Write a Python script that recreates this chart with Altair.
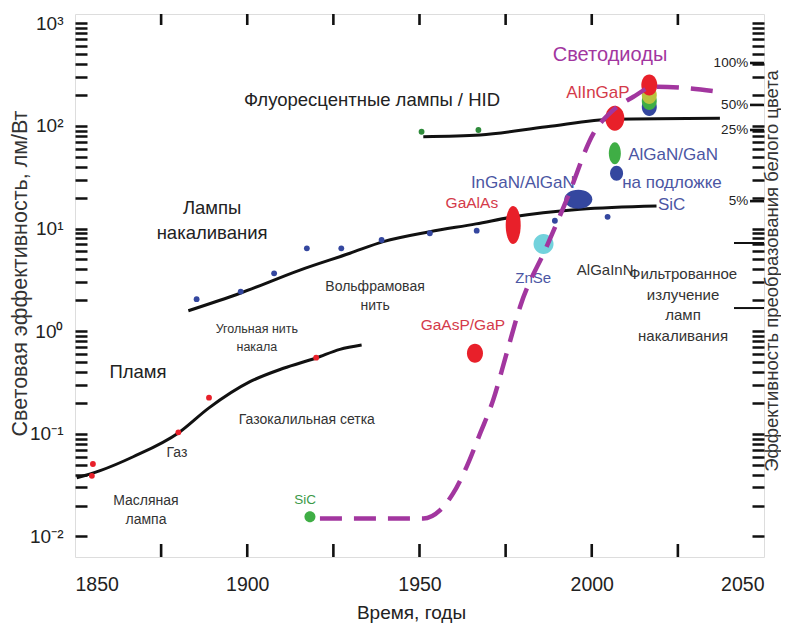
import altair as alt
import pandas as pd

# ---------------- data ----------------
flame_curve_year = [1850.5, 1857.3, 1866.9, 1880.0, 1888.9, 1900.8, 1910.5, 1920.0, 1926.9, 1933.2]
flame_curve_eff = [0.0372, 0.0438, 0.0598, 0.102, 0.179, 0.322, 0.435, 0.548, 0.665, 0.733]
flame_pts_year = [1854.9, 1855.2, 1880.0, 1888.9, 1920.0]
flame_pts_eff = [0.039, 0.0508, 0.1035, 0.225, 0.552]

inc_curve_year = [1882.9, 1897.9, 1915.3, 1929.8, 1939.5, 1953.0, 1966.4, 1977.2, 1996.6, 2018.8]
inc_curve_eff = [1.58, 2.34, 3.94, 5.74, 7.45, 9.31, 11.1, 13.0, 15.4, 16.6]
inc_pts_year = [1885.3, 1898.1, 1907.8, 1917.3, 1927.3, 1939.0, 1953.0, 1966.6, 1989.3, 2004.6]
inc_pts_eff = [2.05, 2.43, 3.66, 6.41, 6.41, 7.73, 9.0, 9.53, 11.9, 13.0]

flu_curve_year = [1951.1, 1967.6, 1986.9, 2006.3, 2037.2]
flu_curve_eff = [78.5, 81.5, 98.2, 115.9, 118.6]
flu_pts_year = [1950.6, 1967.1, 2006.3]
flu_pts_eff = [87.7, 91.2, 121.3]

led_curve_year = [1921.1, 1951.1, 1956.0, 1959.8, 1963.7, 1967.6, 1971.4, 1975.3, 1979.2,
                  1986.9, 1992.7, 2000.5, 2006.3, 2012.1, 2017.9, 2027.0, 2037.2]
led_curve_eff = [0.0150, 0.0150, 0.0181, 0.0264, 0.0479, 0.101, 0.214, 0.61, 1.73,
                 6.65, 19.0, 84.7, 143, 192, 241, 234, 214]

led_names = ["SiC", "GaAsP/GaP", "GaAlAs", "ZnSe", "InGaN/AlGaN", "AlInGaP",
             "AlGaN/GaN", "AlGaN/GaN на SiC", "2015 синий", "2015 зелёный", "2015 жёлтый", "2015 красный"]
led_year = [1918.2, 1966.1, 1977.2, 1986.0, 1996.1, 2006.7, 2006.7, 2007.2, 2016.7, 2016.7, 2016.7, 2016.7]
led_eff = [0.0156, 0.61, 10.8, 7.07, 19.3, 118.6, 54.1, 34.5, 152.8, 175.0, 200.0, 250.0]

big_text = ["Флуоресцентные лампы / HID", "Лампы\nнакаливания", "Пламя"]
big_year = [1936.2, 1889.8, 1868.3]
big_eff = [178.6, 16.0, 0.40]

gray_text = ["Вольфрамовая\nнить", "Газокалильная сетка", "Газ", "Масляная\nлампа"]
gray_year = [1937.1, 1917.3, 1879.6, 1870.6]
gray_eff = [2.69, 0.136, 0.065, 0.0222]

coal_text = ["Угольная нить\nнакала"]
coal_year = [1902.8]
coal_eff = [1.05]

right_text = ["AlGaInN", "Фильтрованное\nизлучение\nламп\nнакаливания"]
right_year = [2003.9, 2026.5]
right_eff = [3.94, 3.61]

red_text = ["GaAsP/GaP", "GaAlAs"]
red_year = [1962.6, 1965.2]
red_eff = [1.15, 17.7]
red2_text = ["AlInGaP"]
red2_year = [2001.8]
red2_eff = [209]

blue_text = ["InGaN/AlGaN", "AlGaN/GaN", "на подложке", "SiC"]
blue_year = [1980.0, 2023.6, 2023.3, 2023.2]
blue_eff = [27.8, 52.0, 27.8, 16.9]
znse_text = ["ZnSe"]
znse_year = [1983.0]
znse_eff = [3.30]

green_text = ["SiC"]
green_year = [1916.8]
green_eff = [0.0227]

purple_text = ["Светодиоды"]
purple_year = [2005.3]
purple_eff = [491]

pct_text = ["100%", "50%", "25%", "5%"]
pct_year = [2045.4, 2045.4, 2045.4, 2045.4]
pct_eff = [410, 160, 91.2, 18.5]
filter_tick_eff = [7.23, 1.68]

minor_ticks = [m * 10 ** e for e in range(-2, 3) for m in range(1, 10)] + [1000]
year_labels = [1850, 1900, 1950, 2000, 2050]
year_ticks = [1875, 1900, 1925, 1950, 1975, 2000, 2025]

y_title = "Световая эффективность, лм/Вт"
x_title = "Время, годы"
right_title = "Эффективность преобразования белого цвета"

# ---------------- styling ----------------
W, H = 689, 543
FONT = "Liberation Sans, Arial, sans-serif"
RED = "#e8202a"
RED_TXT = "#d43a4a"
BLUE = "#34479f"
BLUE_TXT = "#4b56a3"
GREEN = "#3fae45"
PURPLE = "#a2369f"
CYAN = "#72d2dc"
YELLOW = "#b9c23e"
INK = "#111111"

XS = alt.Scale(domain=[1850, 2050], nice=False, zero=False)
YS = alt.Scale(type="log", domain=[10 ** -2.2, 10 ** 3.09], nice=False)

sup = "round(log(datum.value)/LN10)"
is_dec = "abs(log(datum.value)/LN10 - " + sup + ") < 0.001"
label_expr = (is_dec + " ? ('10' + (" + sup + " == 3 ? '³' : " + sup + " == 2 ? '²' : "
              + sup + " == 1 ? '¹' : " + sup + " == 0 ? '⁰' : " + sup + " == -1 ? '⁻¹' : '⁻²')) : ''")

X_AXIS = alt.Axis(values=year_labels, format="d", ticks=False, tickSize=0, domain=False, grid=False,
                  labelFont=FONT, labelFontSize=19.5, labelColor="#222", labelPadding=18,
                  labelFlush=True,
                  title=x_title, titleFont=FONT, titleFontSize=19, titleFontWeight="normal",
                  titleColor="#222", titlePadding=10, titleX=336)
# inward log ticks on both sides: dashed grid lines with one short dash at each end
Y_AXIS = alt.Axis(values=minor_ticks, labelExpr=label_expr, ticks=False, tickSize=0, domain=False,
                  labelOverlap=False,
                  grid=True, gridColor=INK, gridWidth=2.4, gridOpacity=1, gridDash=[12, W - 24],
                  labelFont=FONT, labelFontSize=19, labelColor="#222", labelPadding=12,
                  title=y_title, titleFont=FONT, titleFontSize=21.5, titleFontWeight="normal",
                  titleColor="#333", titleX=-55, titleY=259, titleAngle=270,
                  titleAlign="center", titleBaseline="middle")


def X(f="year"):
    return alt.X(f + ":Q", scale=XS, axis=X_AXIS)


def Y(f="eff"):
    return alt.Y(f + ":Q", scale=YS, axis=Y_AXIS)


def df(years, effs, texts=None):
    d = {"year": years, "eff": effs}
    if texts is not None:
        d["t"] = texts
    return pd.DataFrame(d)


def curve(years, effs):
    return alt.Chart(df(years, effs)).mark_line(
        color=INK, strokeWidth=3, interpolate="monotone").encode(x=X(), y=Y())


def dots(years, effs, color):
    return alt.Chart(df(years, effs)).mark_circle(
        size=34, color=color, opacity=1).encode(x=X(), y=Y())


def ellipse(w, h):
    m = max(w, h)
    a, b, k = w / m, h / m, 0.5523
    path = (f"M{a},0 C{a},{k*b} {k*a},{b} 0,{b} C{-k*a},{b} {-a},{k*b} {-a},0 "
            f"C{-a},{-k*b} {-k*a},{-b} 0,{-b} C{k*a},{-b} {a},{-k*b} {a},0 Z")
    return path, m * m


def blob(i, color, w, h):
    path, size = ellipse(w, h)
    return alt.Chart(df([led_year[i]], [led_eff[i]])).mark_point(
        shape=path, size=size, filled=True, color=color, opacity=1, strokeWidth=0).encode(x=X(), y=Y())


def labels(texts, years, effs, color, size, align="center", line_h=None):
    kw = dict(color=color, fontSize=size, font=FONT, align=align, baseline="middle", lineBreak="\n")
    if line_h:
        kw["lineHeight"] = line_h
    return alt.Chart(df(years, effs, texts)).mark_text(**kw).encode(x=X(), y=Y(), text="t:N")


# extra ticks of the right-hand scale
pct_ticks = alt.Chart(pd.DataFrame({"eff": pct_eff})).mark_rule(
    color=INK, strokeWidth=2.6).encode(y=Y(), x=alt.value(W - 14), x2=alt.value(W))
filter_ticks = alt.Chart(pd.DataFrame({"eff": filter_tick_eff})).mark_rule(
    color=INK, strokeWidth=2).encode(y=Y(), x=alt.value(W - 30), x2=alt.value(W))

# inward year ticks at top and bottom
yt = pd.DataFrame({"year": year_ticks})
top_ticks = alt.Chart(yt).mark_rule(color=INK, strokeWidth=2.6).encode(
    x=X(), y=alt.value(0), y2=alt.value(11))
bottom_ticks = alt.Chart(yt).mark_rule(color=INK, strokeWidth=2.6).encode(
    x=X(), y=alt.value(H - 13), y2=alt.value(H))

right_title_layer = alt.Chart(pd.DataFrame({"t": [right_title]})).mark_text(
    angle=270, font=FONT, fontSize=18.5, color="#333", baseline="middle", align="center").encode(
    x=alt.value(W + 8), y=alt.value(257), text="t:N")

blobs = [
    blob(0, GREEN, 11, 11),
    blob(1, RED, 16, 19),
    blob(2, RED, 15, 38),
    blob(3, CYAN, 20, 20),
    blob(4, BLUE, 28, 19),
    blob(5, RED, 19, 25),
    blob(6, GREEN, 12, 22),
    blob(7, BLUE, 13, 15),
    blob(8, BLUE, 15, 18),
    blob(9, GREEN, 15, 18),
    blob(10, YELLOW, 15, 18),
    blob(11, RED, 16, 21),
]

led_line = alt.Chart(df(led_curve_year, led_curve_eff)).mark_line(
    color=PURPLE, strokeWidth=4.5, strokeDash=[22, 12], interpolate="monotone").encode(x=X(), y=Y())

layers = [
    curve(flame_curve_year, flame_curve_eff),
    pct_ticks, filter_ticks, top_ticks, bottom_ticks,
    curve(inc_curve_year, inc_curve_eff),
    curve(flu_curve_year, flu_curve_eff),
    dots(flame_pts_year, flame_pts_eff, RED),
    dots(inc_pts_year, inc_pts_eff, BLUE),
    dots(flu_pts_year, flu_pts_eff, "#2e8b3a"),
    labels(big_text, big_year, big_eff, "#222", 18.5, line_h=25),
    labels(gray_text, gray_year, gray_eff, "#333", 14, line_h=19),
    labels(coal_text, coal_year, coal_eff, "#333", 12.5, line_h=18),
    labels(right_text, right_year, right_eff, "#333", 15, line_h=20.7),
    labels(red_text, red_year, red_eff, RED_TXT, 15.5),
    labels(red2_text, red2_year, red2_eff, RED_TXT, 17),
    labels(blue_text, blue_year, blue_eff, BLUE_TXT, 17),
    labels(znse_text, znse_year, znse_eff, BLUE_TXT, 15),
    labels(green_text, green_year, green_eff, "#3c9a48", 13.5),
    labels(purple_text, purple_year, purple_eff, PURPLE, 20),
    labels(pct_text, pct_year, pct_eff, "#222", 13.5, align="right"),
    *blobs,
    led_line,
    right_title_layer,
]

chart = alt.layer(*layers).properties(
    width=W, height=H,
    autosize=alt.AutoSizeParams(type="none"),
    padding={"left": 67, "top": 6, "right": 17, "bottom": 68},
).configure_view(stroke=INK, strokeWidth=2.4).configure(background="white")

chart.save("out.html", embed_options={"renderer": "svg", "actions": False})
